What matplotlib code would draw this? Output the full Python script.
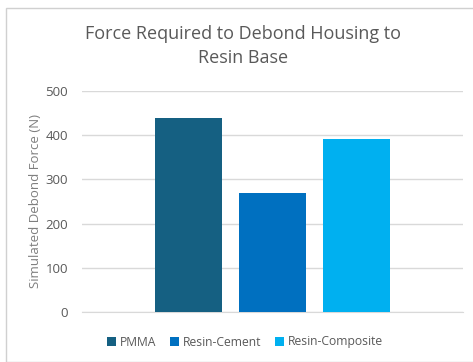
import matplotlib.pyplot as plt
from matplotlib.patches import Rectangle

# ----------------------------
# Data
# ----------------------------

materials = ["PMMA", "Resin-Cement", "Resin-Composite"]
forces = [438, 269, 391]
colors = ["#156082", "#0070C0", "#00B0F0"]
yticks = [0, 100, 200, 300, 400, 500]

plt.rcParams["font.family"] = ["Open Sans", "DejaVu Sans"]

# ----------------------------
# Figure
# ----------------------------

fig = plt.figure(figsize=(4.73, 3.62), dpi=100)
frame = Rectangle((6 / 473, 0), 1, 1 - 8 / 362, transform=fig.transFigure,
                  facecolor="white", edgecolor="#d0d0d0", lw=1.0, zorder=-10)
fig.add_artist(frame)

ax = fig.add_axes([82 / 473, 1 - 312 / 362, 381 / 473, 221 / 362])
ax.set_facecolor("none")
ax.set_zorder(2)

width = 0.1733
step = 0.2205
for i, (name, val) in enumerate(zip(materials, forces)):
    ax.bar((i - 1) * step, val, width=width, color=colors[i], label=name, zorder=3)

ax.set_xlim(-0.5, 0.5)
ax.set_ylim(0, 500)
ax.set_yticks(yticks)
ax.set_yticklabels([str(t) for t in yticks], fontsize=9.5, color="#595959")
ax.set_xticks([])
ax.tick_params(axis="y", length=0, pad=10)
ax.grid(axis="y", color="#d9d9d9", lw=1.0, zorder=0)
for s in ["top", "right", "left"]:
    ax.spines[s].set_visible(False)
ax.spines["bottom"].set_color("#d9d9d9")
ax.set_ylabel("Simulated Debond Force (N)", fontsize=9.5, color="#7f7f7f")
ax.yaxis.set_label_coords(-0.104, 0.5)

fig.text(0.513, 1 - 46 / 362, "Force Required to Debond Housing to\nResin Base",
         ha="center", va="center", fontsize=13, color="#595959", linespacing=1.45)

leg = fig.legend(loc="center", bbox_to_anchor=(0.518, 1 - 342 / 362), ncol=3, frameon=False,
                 fontsize=8.7, labelcolor="#595959", handlelength=0.7, handleheight=0.7,
                 handletextpad=0.3, columnspacing=1.2)
leg.set_zorder(3)

fig.savefig("out.png", dpi=100)
